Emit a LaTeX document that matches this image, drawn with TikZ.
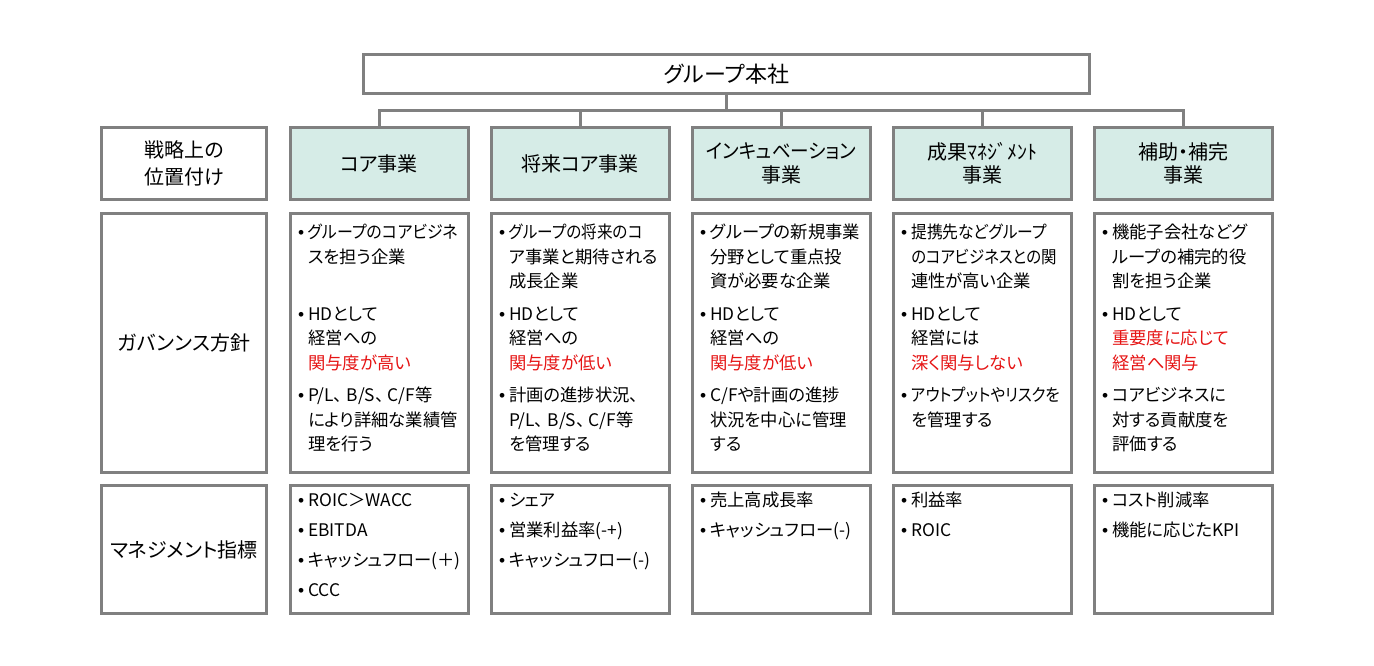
\documentclass[tikz,border=0pt]{standalone}
\usepackage{fontspec}
\usepackage{graphicx}
\setmainfont{Noto Sans CJK JP}[RawFeature={+palt}]
\newfontfamily\bulfont{Liberation Sans}
\definecolor{frame}{RGB}{128,128,128}
\definecolor{headfill}{RGB}{214,236,231}
\definecolor{jred}{RGB}{230,20,20}
\newcommand\bul{\leavevmode\llap{{\bulfont\char"2022}\hspace{3pt}}}
\newcommand\rd[1]{\textcolor{jred}{#1}}
\newcommand\nar[2][0.9]{\scalebox{#1}[1]{#2}}
\newcommand\tc{、\hspace{3pt}}
\tikzset{
  box/.style={draw=frame, line width=2.25pt, inner sep=0pt, fill=white},
  headbox/.style={box, fill=headfill},
  colw/.style={minimum width=133.5pt},
  labw/.style={minimum width=123.75pt},
  rowhead/.style={minimum height=54pt},
  rowbody/.style={minimum height=194.25pt},
  rowbot/.style={minimum height=96pt},
  conn/.style={draw=frame, line width=2.25pt},
  headtext/.style={align=center, font=\fontsize{15pt}{17.5pt}\selectfont},
  labtext/.style={align=center, font=\fontsize{15pt}{20pt}\selectfont},
  bodytext/.style={anchor=base west, inner sep=0pt, text width=128pt, align=left,
    font=\fontsize{13pt}{18.4pt}\selectfont},
  bottext/.style={anchor=base west, inner sep=0pt, text width=128pt, align=left,
    font=\fontsize{13pt}{22.5pt}\selectfont},
}
\begin{document}
\begin{tikzpicture}[x=0.75pt,y=-0.75pt]
\useasboundingbox (0,0) rectangle (1374,665);

% top
\node[box, minimum width=544.5pt, minimum height=29.25pt,
      font=\fontsize{16.5pt}{19pt}\selectfont] (hq) at (726.5,74) {グループ本社};

% label column
\node[box, labw, rowhead, labtext] (l1) at (184,163.5) {戦略上の\\位置付け};
\node[box, labw, rowbody, labtext] (l2) at (184,343) {ガバンンス方針};
\node[box, labw, rowbot, labtext] (l3) at (184,549.5) {マネジメント指標};

% headers
\node[headbox, colw, rowhead, headtext] (h1) at (379,163.5) {コア事業};
\node[headbox, colw, rowhead, headtext] (h2) at (580,163.5) {将来コア事業};
\node[headbox, colw, rowhead, headtext] (h3) at (781,163.5) {\nar[0.93]{インキュベーション}\\事業};
\node[headbox, colw, rowhead, headtext] (h4) at (982,163.5) {成果ﾏﾈｼﾞﾒﾝﾄ\\事業};
\node[headbox, colw, rowhead, headtext] (h5) at (1183,163.5) {補助・補完\\事業};

% connectors
\coordinate (bus) at (726.5,110);
\draw[conn] (hq.south) -- (bus);
\draw[conn] (h1.north) |- (bus);
\draw[conn] (h5.north) |- (bus);
\draw[conn] (h2.north) -- (h2.north |- bus);
\draw[conn] (h3.north) -- (h3.north |- bus);
\draw[conn] (h4.north) -- (h4.north |- bus);

% body boxes
\node[box, colw, rowbody] (b1) at (379,343) {};
\node[box, colw, rowbody] (b2) at (580,343) {};
\node[box, colw, rowbody] (b3) at (781,343) {};
\node[box, colw, rowbody] (b4) at (982,343) {};
\node[box, colw, rowbody] (b5) at (1183,343) {};

% bottom boxes
\node[box, colw, rowbot] (m1) at (379,549.5) {};
\node[box, colw, rowbot] (m2) at (580,549.5) {};
\node[box, colw, rowbot] (m3) at (781,549.5) {};
\node[box, colw, rowbot] (m4) at (982,549.5) {};
\node[box, colw, rowbot] (m5) at (1183,549.5) {};

% body texts
\node[bodytext] (t1) at (308,238.5) {%
\bul \nar[0.92]{グループのコアビジネ}\\スを担う企業\\\mbox{}\\[6pt]
\bul HDとして\\経営への\\\rd{関与度が高い}\\[6pt]
\bul P/L\tc B/S\tc C/F等\\により詳細な業績管\\理を行う};
\node[bodytext] (t2) at (509,238.5) {%
\bul \nar[0.9]{グループの将来のコ}\\ア事業と期待される\\成長企業\\[6pt]
\bul HDとして\\経営への\\\rd{関与度が低い}\\[6pt]
\bul 計画の進捗状況、\\P/L\tc B/S\tc C/F等\\を管理する};
\node[bodytext] (t3) at (710,238.5) {%
\bul グループの新規事業\\分野として重点投\\資が必要な企業\\[6pt]
\bul HDとして\\経営への\\\rd{関与度が低い}\\[6pt]
\bul C/Fや計画の進捗\\状況を中心に管理\\する};
\node[bodytext] (t4) at (911,238.5) {%
\bul \nar[0.91]{提携先などグループ}\\\nar[0.89]{のコアビジネスとの関}\\連性が高い企業\\[6pt]
\bul HDとして\\経営には\\\rd{深く関与しない}\\[6pt]
\bul \nar[0.9]{アウトプットやリスクを}\\を管理する};
\node[bodytext] (t5) at (1112,238.5) {%
\bul 機能子会社などグ\\ループの補完的役\\割を担う企業\\[6pt]
\bul HDとして\\\rd{重要度に応じて}\\\rd{経営へ関与}\\[6pt]
\bul コアビジネスに\\対する貢献度を\\評価する};

% bottom texts
\node[bottext] (u1) at (308,506.5) {%
\bul ROIC＞WACC\\\bul EBITDA\\\bul キャッシュフロー(＋)\\\bul CCC};
\node[bottext] (u2) at (509,506.5) {%
\bul シェア\\\bul 営業利益率(-+)\\\bul キャッシュフロー(-)};
\node[bottext] (u3) at (710,506.5) {%
\bul 売上高成長率\\\bul キャッシュフロー(-)};
\node[bottext] (u4) at (911,506.5) {%
\bul 利益率\\\bul ROIC};
\node[bottext] (u5) at (1112,506.5) {%
\bul コスト削減率\\\bul 機能に応じたKPI};
\end{tikzpicture}
\end{document}
